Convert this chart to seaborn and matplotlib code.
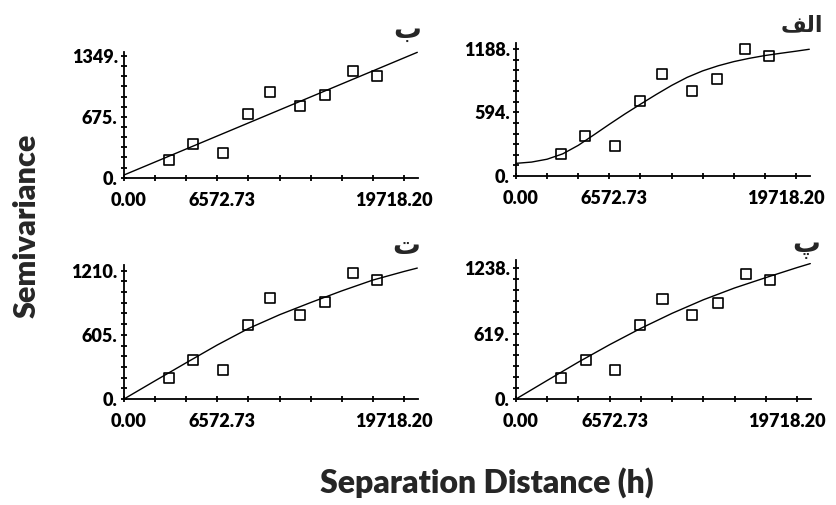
import matplotlib
matplotlib.use("Agg")
import matplotlib.pyplot as plt
import matplotlib.transforms as mtransforms
import seaborn as sns
import pandas as pd

# ---- data ----
lag_distance = [3140, 4890, 6975, 8710, 10280, 12360, 14185, 16130, 17840]
semivariance = [201, 371, 277, 702, 952, 795, 912, 1186, 1126]

# model curves
model_b_x = [0, 20650]
model_b_y = [30, 1390]
model_alef_x = [0, 1095, 2191, 3286, 4382, 5477, 6573, 7668, 8764, 9859,
                10955, 12050, 13145, 14241, 15336, 16432, 17527, 18623, 19718, 20650]
model_alef_y = [116, 128, 155, 205, 285, 383, 483, 580, 672, 762,
                848, 924, 985, 1033, 1072, 1103, 1129, 1150, 1170, 1188]
model_te_x = [0, 2191, 4382, 6573, 8764, 10955, 13145, 15336, 17527, 19718, 20650]
model_te_y = [0, 172, 342, 510, 665, 795, 910, 1020, 1122, 1203, 1235]
model_pe_x = [0, 2191, 4382, 6573, 8764, 10955, 13145, 15336, 17527, 19718, 20650]
model_pe_y = [0, 176, 350, 515, 670, 812, 940, 1052, 1150, 1245, 1283]

panel_titles = ["ب", "\ufed2\ufedf\u0627", "ت", "پ"]   # visual form of "الف"
y_max_labels = [1349, 1188, 1210, 1238]
y_mid_labels = [675, 594, 605, 619]
y_axis_tops = [1397, 1244, 1264, 1317]

x_tick_step = 2190.91
x_tick_labels = ["0.00", "", "", "6572.73", "", "", "", "", "", "19718.20"]
x_max = 20700

x_label = "Separation Distance (h)"
y_label = "Semivariance"

# ---- figure ----
sns.set_theme(style="white")
plt.rcParams["font.family"] = ["Lato", "DejaVu Sans"]

W, H = 836, 505
fig = plt.figure(figsize=(W / 100, H / 100), dpi=100)

# panel rectangles in pixels: left, right, bottom(y of 0), top
rects = [(124, 418, 177.7, 51.7), (516, 810, 175.7, 43.3),
         (124, 418, 399, 265), (516, 811, 399, 260)]
curves = [(model_b_x, model_b_y), (model_alef_x, model_alef_y),
          (model_te_x, model_te_y), (model_pe_x, model_pe_y)]
title_pos = [(421, 30), (823, 25), (420, 246), (820, 245)]
title_sizes = [20, 16, 20, 20]

tick_font = dict(family="Lato", weight="heavy", size=13)
label_offsets = [5, 0, 0, 5, 0, 0, 0, 0, 0, -10]

pts = pd.DataFrame({"h": lag_distance, "gamma": semivariance})

for i in range(4):
    l, r, b, t = rects[i]
    ax = fig.add_axes([l / W, 1 - b / H, (r - l) / W, (b - t) / H])
    cx, cy = curves[i]
    cdf = pd.DataFrame({"h": cx, "gamma": cy})
    sns.lineplot(data=cdf, x="h", y="gamma", color="black", linewidth=1.0,
                 sort=False, estimator=None, ax=ax)
    sns.scatterplot(data=pts, x="h", y="gamma", marker="s", s=52,
                    color="black", linewidth=1.2, ax=ax, zorder=3)
    coll = ax.collections[-1]
    coll.set_facecolor("none")
    coll.set_edgecolor("black")
    for art in ax.lines + ax.collections:
        art.set_clip_on(False)

    ax.set_xlim(0, x_max)
    ax.set_ylim(0, y_axis_tops[i])
    ymax = y_max_labels[i]
    yt = [ymax * k / 12 for k in range(13)]
    ylabs = [""] * 13
    ylabs[0] = "0."
    ylabs[6] = f"{y_mid_labels[i]}."
    ylabs[12] = f"{ymax}."
    ax.set_yticks(yt)
    ax.set_yticklabels(ylabs, fontdict=tick_font)
    xt = [x_tick_step * k for k in range(10)]
    ax.set_xticks(xt)
    ax.set_xticklabels([""] * 10)
    base = mtransforms.blended_transform_factory(ax.transData, ax.transAxes)
    for k, lab in enumerate(x_tick_labels):
        if lab:
            tr = base + mtransforms.ScaledTranslation(
                label_offsets[k] / 100, -14 / 100, fig.dpi_scale_trans)
            ax.text(xt[k], 0, lab, transform=tr, ha="center", va="top",
                    fontdict=tick_font, color="black")

    ax.set_xlabel("")
    ax.set_ylabel("")
    sns.despine(ax=ax)
    for s in ("left", "bottom"):
        ax.spines[s].set_color("black")
        ax.spines[s].set_linewidth(1.3)
    ax.tick_params(axis="both", direction="inout", length=5, width=1.3,
                   colors="black", left=True, bottom=True)
    ax.tick_params(axis="y", pad=2)
    ax.patch.set_alpha(0)

    tx, ty = title_pos[i]
    fig.text(tx / W, 1 - ty / H, panel_titles[i], ha="right", va="center",
             fontsize=title_sizes[i], fontweight="bold", family=["DejaVu Sans"])

fig.text(27 / W, 1 - 226 / H, y_label, rotation=90, ha="center", va="center",
         fontsize=22, fontweight="heavy")
fig.text(487 / W, 1 - 483 / H, x_label, ha="center", va="center",
         fontsize=23, fontweight="heavy")

fig.savefig("out.png", dpi=100)
